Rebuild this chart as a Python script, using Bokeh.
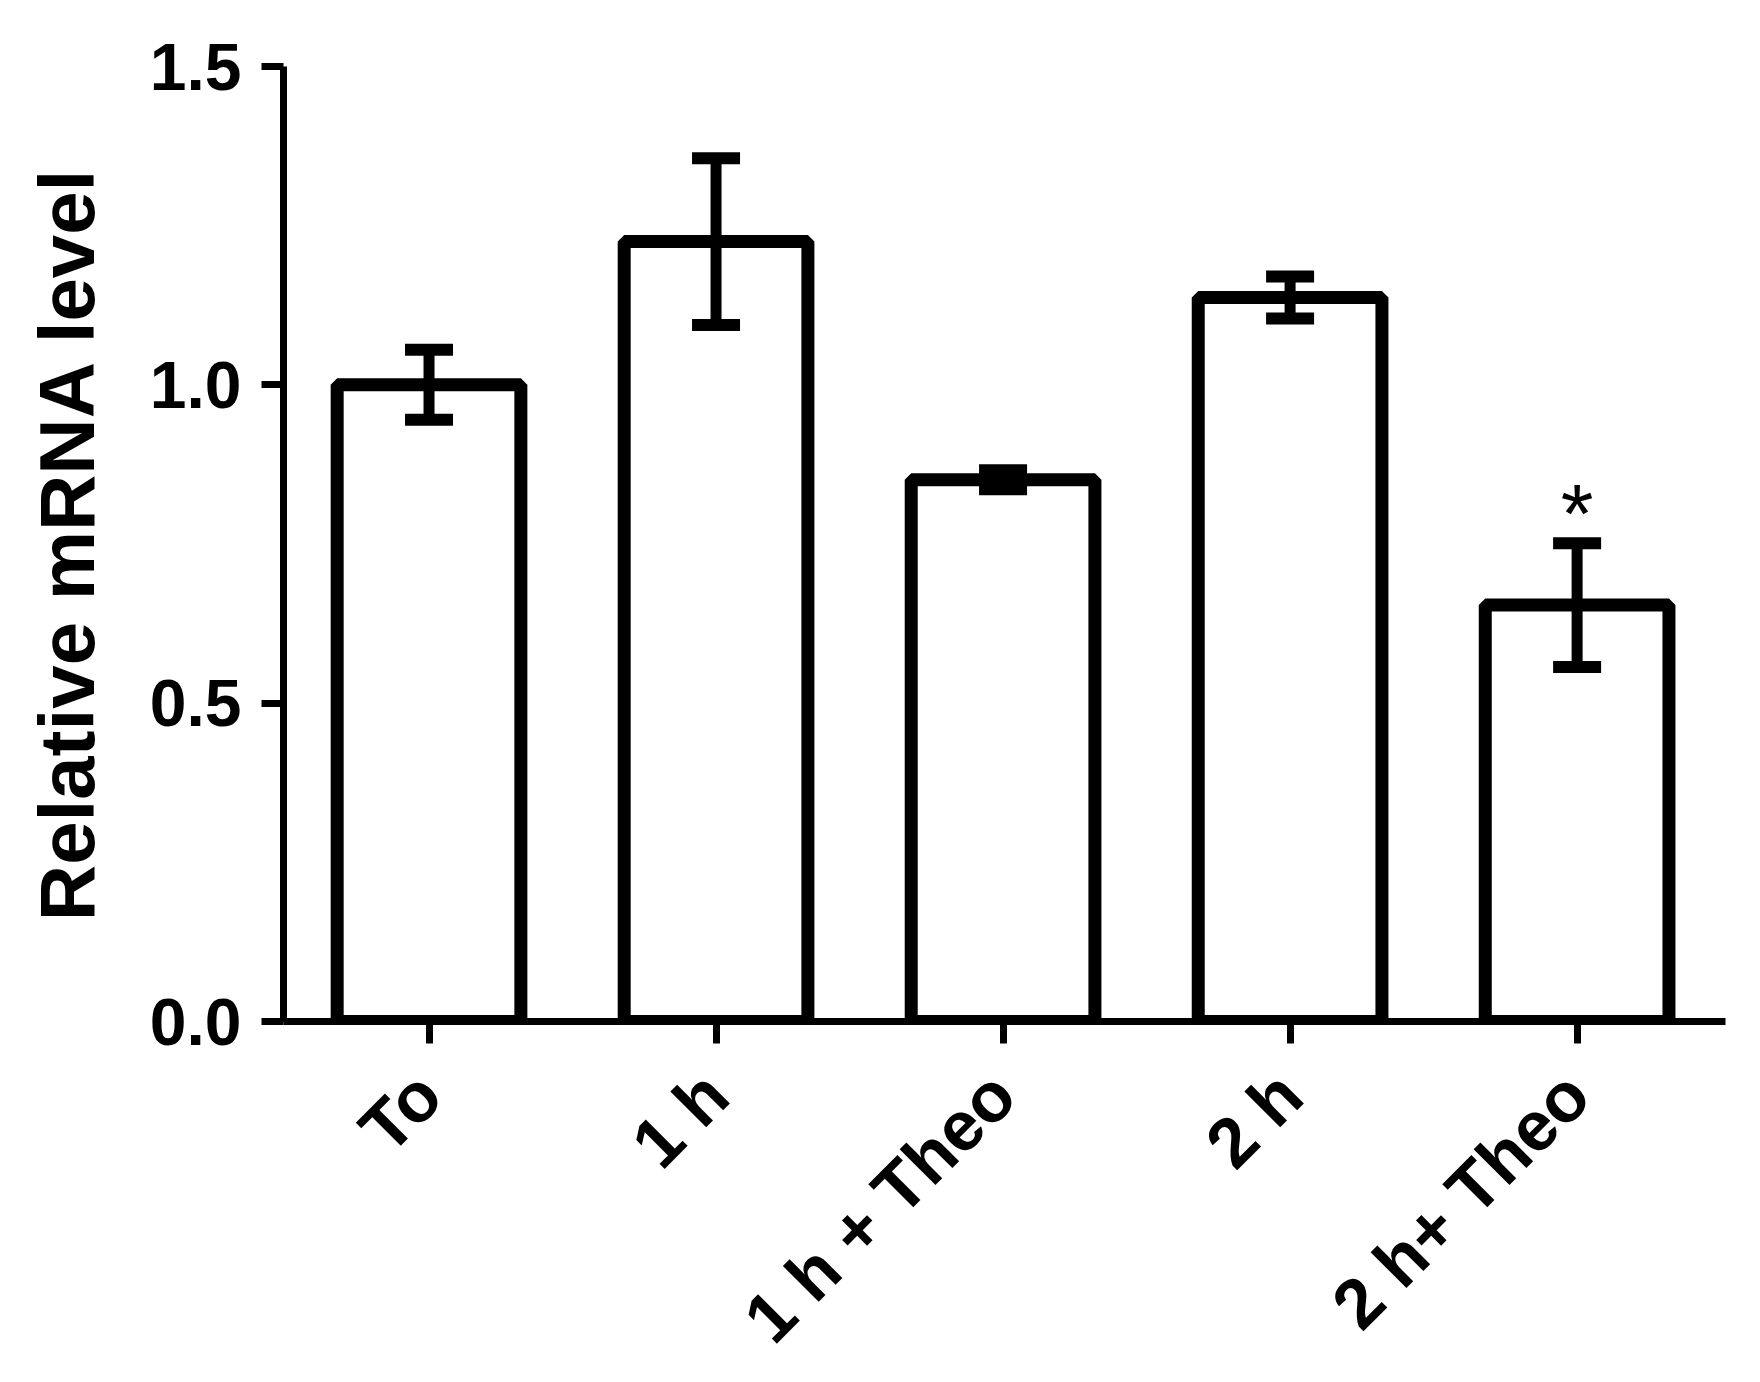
from bokeh.plotting import figure
from bokeh.models import Range1d, FixedTicker, Whisker, TeeHead, ColumnDataSource, NumeralTickFormatter
from bokeh.core.properties import value
from bokeh.embed import file_html
from bokeh.resources import INLINE

categories = ["To", "1 h", "1 h + Theo", "2 h", "2 h+ Theo"]
means = [1.00, 1.225, 0.851, 1.137, 0.654]
sems = [0.055, 0.131, 0.015, 0.033, 0.097]
significance = ["", "", "", "", "*"]
y_ticks = [0.0, 0.5, 1.0, 1.5]

xs = list(range(len(categories)))
upper = [m + s for m, s in zip(means, sems)]
lower = [m - s for m, s in zip(means, sems)]
src = ColumnDataSource(dict(x=xs, top=means, upper=upper, lower=lower, sig=significance))

FONT = "Liberation Sans"

p = figure(frame_width=1442, frame_height=955,
           min_border_left=283, min_border_right=19, min_border_top=66, min_border_bottom=345,
           x_range=Range1d(-0.507, 4.517), y_range=Range1d(0, 1.5),
           output_backend="svg", toolbar_location=None)
p.outline_line_color = None
p.grid.visible = False
p.background_fill_color = "white"

p.vbar(x="x", top="top", bottom=0, width=0.64, source=src,
       fill_color="white", line_color="black", line_width=13, line_join="bevel")

w = Whisker(base="x", upper="upper", lower="lower", source=src, level="overlay",
            line_width=11, line_color="black",
            upper_head=TeeHead(size=48, line_width=12, line_color="black"),
            lower_head=TeeHead(size=48, line_width=12, line_color="black"))
p.add_layout(w)

p.text(x="x", y="upper", text="sig", source=src, text_align="center", text_baseline="alphabetic",
       y_offset=-29, text_font=value(FONT), text_font_size="84px", text_color="black")

for ax in (p.xaxis[0], p.yaxis[0]):
    ax.axis_line_width = 7
    ax.axis_line_color = "black"
    ax.major_tick_line_width = 7
    ax.major_tick_in = 0
    ax.major_tick_out = 22
    ax.minor_tick_line_color = None
    ax.major_label_text_font = FONT
    ax.major_label_text_font_style = "bold"
    ax.major_label_text_font_size = "66px"
    ax.major_label_text_color = "black"

p.yaxis.ticker = FixedTicker(ticks=y_ticks)
p.yaxis.formatter = NumeralTickFormatter(format="0.0")
p.yaxis.axis_label = "Relative mRNA level"
p.yaxis.axis_label_text_font = FONT
p.yaxis.axis_label_text_font_style = "bold"
p.yaxis.axis_label_text_font_size = "78px"
p.yaxis.axis_label_text_color = "black"
p.yaxis.axis_label_standoff = 36
p.yaxis.major_label_standoff = 20

p.xaxis.ticker = FixedTicker(ticks=xs)
p.xaxis.major_label_overrides = {i: c for i, c in enumerate(categories)}
p.xaxis.major_label_orientation = 0.785398
p.xaxis.major_label_standoff = 40
p.xaxis.major_label_text_font_size = "70px"

open("out.html", "w").write(file_html(p, INLINE))
